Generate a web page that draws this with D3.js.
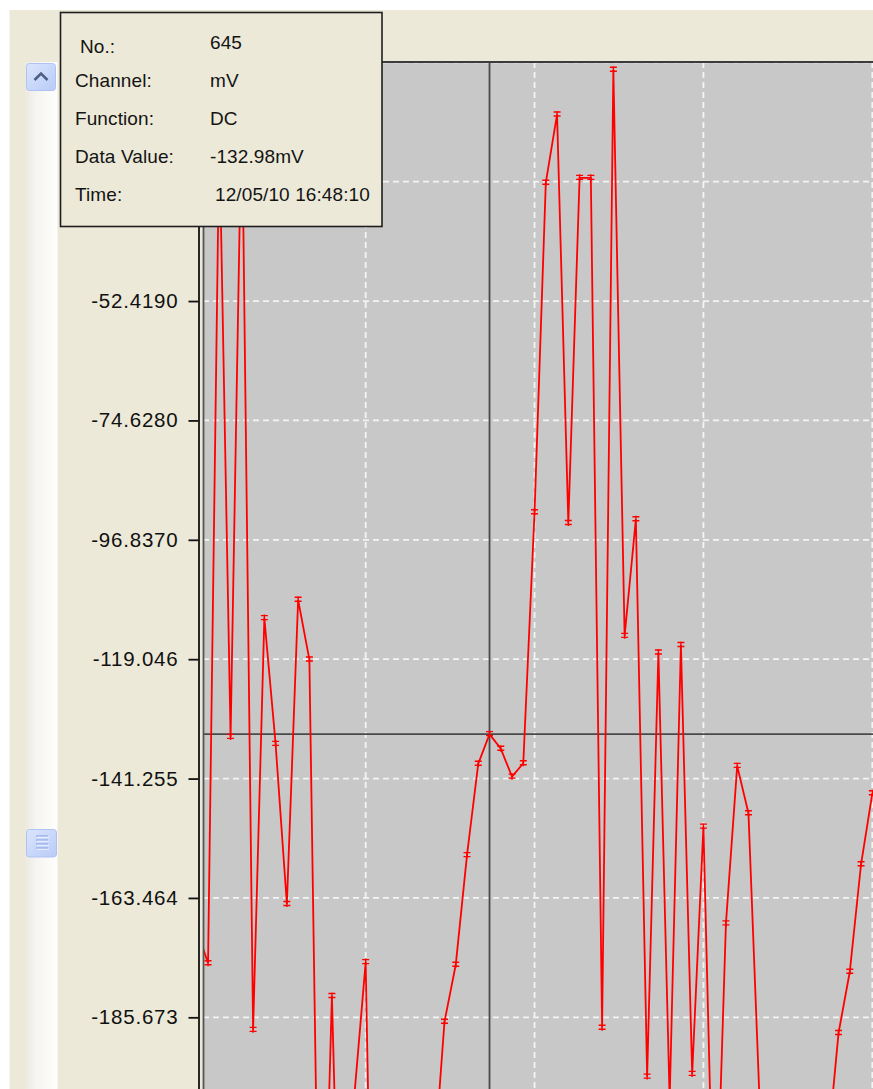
<!DOCTYPE html>
<html>
<head>
<meta charset="utf-8">
<title>mV DC trend</title>
<script src="https://cdn.jsdelivr.net/npm/d3@7"></script>
<style>
    body { margin: 0; background: #ffffff; overflow: hidden; }
    #chart { width: 873px; height: 1089px; }
</style>
</head>
<body>
<div id="chart"></div>
<script>
// sample numbers along the x axis
var sampleNo = [619, 620, 621, 622, 623, 624, 625, 626, 627, 628,
    629, 630, 631, 632, 633, 634, 635, 636, 637, 638,
    639, 640, 641, 642, 643, 644, 645, 646, 647, 648,
    649, 650, 651, 652, 653, 654, 655, 656, 657, 658,
    659, 660, 661, 662, 663, 664, 665, 666, 667, 668,
    669, 670, 671, 672, 673, 674, 675, 676, 677, 678,
    679];

// measured DC voltage (mV) for each sample
var valueMv = [-169.4, -175.6, -21.5, -133.5, -15.0, -188.0, -111.4, -134.8, -164.6, -108.0,
    -119.1, -256.9, -181.7, -260.0, -200.1, -175.4, -290.0, -305.0, -298.0, -280.0,
    -262.0, -215.0, -186.5, -175.9, -155.5, -138.5, -132.98, -135.7, -140.9, -138.4,
    -91.7, -30.4, -17.7, -93.7, -29.5, -29.5, -187.6, -9.4, -114.7, -93.0,
    -196.7, -117.8, -201.1, -116.4, -196.2, -150.2, -234.5, -168.2, -138.9, -147.7,
    -202.0, -215.0, -225.0, -232.0, -228.0, -220.0, -211.0, -188.6, -177.2, -157.2,
    -144.0];

// horizontal grid lines (mV), and the ones that carry a label on screen
var yGrid = [-8.001, -30.21, -52.419, -74.628, -96.837, -119.046, -141.255, -163.464, -185.673];
var yTickLabels = [-52.419, -74.628, -96.837, -119.046, -141.255, -163.464, -185.673];
// vertical grid every 15 samples
var xGrid = [634, 649, 664, 679];

// cursor / tooltip
var cursorNo = 645,
    cursorMv = -132.98;
var tipLabels = ["No.:", "Channel:", "Function:", "Data Value:", "Time:"];
var tipValues = ["645", "mV", "DC", "-132.98mV", "12/05/10 16:48:10"];

var width = 873,
    height = 1089,
    beige = "#ece9d8",
    plotLeft = 203,
    plotTop = 62;

// plain hyphen for negatives, like the original program
var fmt = d3.formatLocale({ decimal: ".", thousands: ",", grouping: [3], currency: ["", ""], minus: "-" }).format('.6r');

var x = d3.scaleLinear().domain([619, 679]).range([196.8, 872.3]);
var y = d3.scaleLinear().domain([-8.001, -207.882]).range([62.3, 1136.7]);

var svg = d3.select('#chart').append('svg')
    .attr('width', width)
    .attr('height', height)
    .style('display', 'block');

var defs = svg.append('defs');

var trackGrad = defs.append('linearGradient').attr('id', 'trackGrad');
trackGrad.append('stop').attr('offset', '0%').attr('stop-color', '#ebe9e0');
trackGrad.append('stop').attr('offset', '35%').attr('stop-color', '#f6f5f1');
trackGrad.append('stop').attr('offset', '100%').attr('stop-color', '#fefefd');

var btnGrad = defs.append('linearGradient').attr('id', 'btnGrad')
    .attr('x1', 0).attr('y1', 0).attr('x2', 1).attr('y2', 1);
btnGrad.append('stop').attr('offset', '0%').attr('stop-color', '#dbe5fd');
btnGrad.append('stop').attr('offset', '100%').attr('stop-color', '#b8cbf8');

defs.append('clipPath').attr('id', 'plotClip')
    .append('rect')
    .attr('x', plotLeft + 1).attr('y', plotTop + 1)
    .attr('width', width - plotLeft).attr('height', height - plotTop);

// window background
svg.append('rect')
    .attr('x', 9.5).attr('y', 10)
    .attr('width', width).attr('height', height)
    .attr('fill', beige);

// scroll bar on the left
svg.append('rect')
    .attr('x', 25).attr('y', plotTop)
    .attr('width', 32.5).attr('height', height - plotTop)
    .attr('fill', 'url(#trackGrad)');

svg.append('rect')
    .attr('x', 26.5).attr('y', 63.5)
    .attr('width', 29).attr('height', 27)
    .attr('rx', 3)
    .attr('fill', 'url(#btnGrad)')
    .attr('stroke', '#afc3f3');

svg.append('path')
    .attr('d', 'M34.5,80 L41,73.5 L47.5,80')
    .attr('fill', 'none')
    .attr('stroke', '#4d6185')
    .attr('stroke-width', 2.6);

svg.append('rect')
    .attr('x', 26.5).attr('y', 829.5)
    .attr('width', 30).attr('height', 27.5)
    .attr('rx', 3)
    .attr('fill', 'url(#btnGrad)')
    .attr('stroke', '#afc3f3');

[836, 840, 844, 848].forEach(function(gy) {
    svg.append('line')
        .attr('x1', 36).attr('x2', 48)
        .attr('y1', gy).attr('y2', gy)
        .attr('stroke', '#8ea6e6')
        .attr('stroke-width', 1.2);
    svg.append('line')
        .attr('x1', 37).attr('x2', 49)
        .attr('y1', gy + 1.3).attr('y2', gy + 1.3)
        .attr('stroke', '#eef3ff')
        .attr('stroke-width', 1);
});

// plot area
svg.append('rect')
    .attr('x', plotLeft).attr('y', plotTop)
    .attr('width', width - plotLeft + 10).attr('height', height - plotTop + 10)
    .attr('fill', '#c8c8c8');

var grid = svg.append('g')
    .attr('clip-path', 'url(#plotClip)')
    .attr('stroke', '#f4f4f4')
    .attr('stroke-width', 1.8)
    .attr('stroke-dasharray', '6,4');

grid.selectAll('.hgrid')
    .data(yGrid)
    .enter().append('line')
    .attr('class', 'hgrid')
    .attr('x1', plotLeft).attr('x2', width)
    .attr('y1', function(d) { return y(d); })
    .attr('y2', function(d) { return y(d); });

grid.selectAll('.vgrid')
    .data(xGrid)
    .enter().append('line')
    .attr('class', 'vgrid')
    .attr('x1', function(d) { return x(d); })
    .attr('x2', function(d) { return x(d); })
    .attr('y1', plotTop).attr('y2', height);

// cursor cross hair
var cross = svg.append('g')
    .attr('clip-path', 'url(#plotClip)')
    .attr('stroke', '#4a4a4a')
    .attr('stroke-width', 1.8);

cross.append('line')
    .attr('x1', x(cursorNo)).attr('x2', x(cursorNo))
    .attr('y1', plotTop).attr('y2', height);

cross.append('line')
    .attr('x1', plotLeft).attr('x2', width)
    .attr('y1', y(cursorMv)).attr('y2', y(cursorMv));

// data line + markers
var data = sampleNo.map(function(d, i) { return { no: d, mv: valueMv[i] }; });

var line = d3.line()
    .x(function(d) { return x(d.no); })
    .y(function(d) { return y(d.mv); });

var series = svg.append('g').attr('clip-path', 'url(#plotClip)');

series.append('path')
    .datum(data)
    .attr('d', line)
    .attr('fill', 'none')
    .attr('stroke', '#ff0000')
    .attr('stroke-width', 1.8);

series.selectAll('.marker')
    .data(data)
    .enter().append('path')
    .attr('class', 'marker')
    .attr('transform', function(d) { return 'translate(' + x(d.no) + ',' + y(d.mv) + ')'; })
    .attr('d', 'M-3.5,-2.5 H3.5 M-3.5,1.5 H3.5 M0,-3.5 V3')
    .attr('fill', 'none')
    .attr('stroke', '#ff0000')
    .attr('stroke-width', 1.4);

// plot frame (top and left)
svg.append('line')
    .attr('x1', plotLeft).attr('x2', width)
    .attr('y1', plotTop).attr('y2', plotTop)
    .attr('stroke', '#3c3c3c')
    .attr('stroke-width', 2);

svg.append('line')
    .attr('x1', plotLeft + 0.5).attr('x2', plotLeft + 0.5)
    .attr('y1', plotTop).attr('y2', height)
    .attr('stroke', '#555555')
    .attr('stroke-width', 1.8);

// y axis
var yAxis = d3.axisLeft(y)
    .tickValues(yTickLabels)
    .tickFormat(fmt)
    .tickSize(10)
    .tickSizeOuter(0)
    .tickPadding(10);

var axisG = svg.append('g')
    .attr('transform', 'translate(198.5,0)')
    .call(yAxis);

axisG.select('.domain')
    .attr('stroke', '#111111')
    .attr('stroke-width', 1.8);

axisG.selectAll('.tick line')
    .attr('stroke', '#111111')
    .attr('stroke-width', 1.8);

axisG.selectAll('.tick text')
    .attr('fill', '#111111')
    .style('font-family', '"Liberation Sans", Arial, sans-serif')
    .style('font-size', '20.5px')
    .style('letter-spacing', '0.8px');

// tooltip box
var tip = svg.append('g');

tip.append('rect')
    .attr('x', 60.5).attr('y', 12.5)
    .attr('width', 321.5).attr('height', 214)
    .attr('fill', beige)
    .attr('stroke', '#1e1e1e')
    .attr('stroke-width', 1.6);

var rowBase = [53, 87.3, 125, 162.7, 200.7];

tip.selectAll('.tipLabel')
    .data(tipLabels)
    .enter().append('text')
    .attr('class', 'tipLabel')
    .attr('x', function(d, i) { return i == 0 ? 80 : 75; })
    .attr('y', function(d, i) { return rowBase[i]; })
    .text(function(d) { return d; });

tip.selectAll('.tipValue')
    .data(tipValues)
    .enter().append('text')
    .attr('class', 'tipValue')
    .attr('x', function(d, i) { return i == 4 ? 215 : 210; })
    .attr('y', function(d, i) { return i == 0 ? rowBase[i] - 4 : rowBase[i]; })
    .text(function(d) { return d; });

tip.selectAll('text')
    .attr('fill', '#141414')
    .style('font-family', '"Liberation Sans", Arial, sans-serif')
    .style('font-size', '19px')
    .style('letter-spacing', '0.1px');
</script>
</body>
</html>
